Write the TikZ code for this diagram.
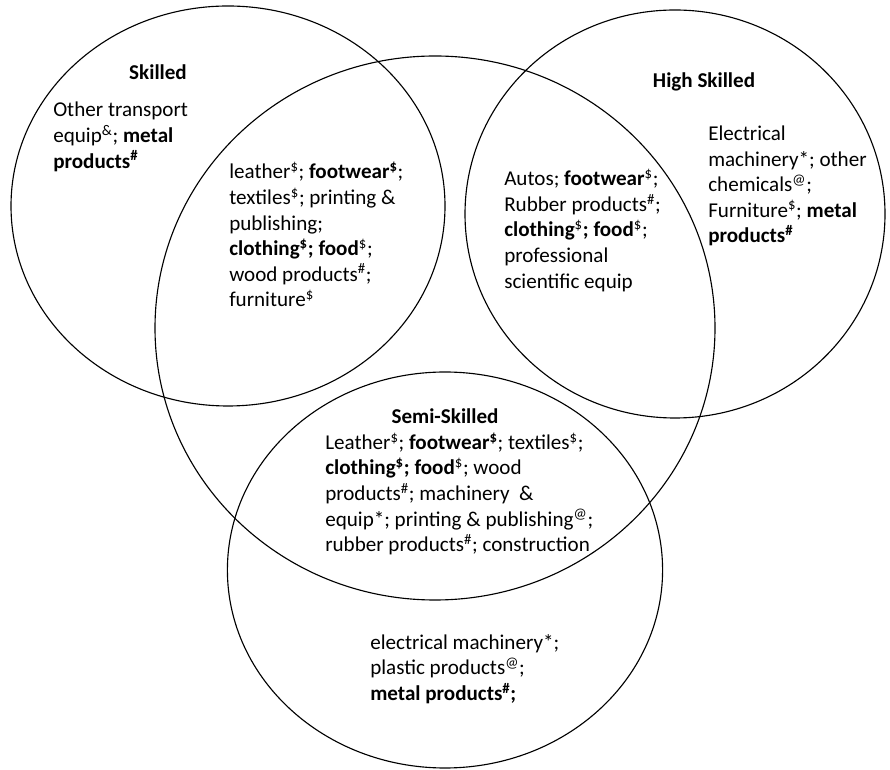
\documentclass[tikz,border=0pt]{standalone}
\usepackage{fontspec}
\setmainfont{Carlito}
\newcommand{\sx}[1]{\textsuperscript{#1}}

\begin{document}
\begin{tikzpicture}[
  set/.style={line width=0.8pt},
  ttl/.style={anchor=base, inner sep=0pt, font=\bfseries},
  txt/.style={anchor=north west, align=left, inner sep=0pt}
]
\fontsize{15}{18.2}\selectfont
\useasboundingbox (0,0) rectangle (22.25,19.25);

\draw[set] (5.70,14.10) ellipse (5.425cm and 5.0cm);
\draw[set] (10.875,11.05) ellipse (7.0cm and 6.8cm);
\draw[set] (16.875,13.9) ellipse (5.25cm and 5.1cm);
\draw[set] (11.125,5.0) ellipse (5.44cm and 4.95cm);

\node[ttl] (skilled) at (3.95,17.25) {Skilled};
\node[txt] (skilledtxt) at (1.325,16.78) {\strut Other transport\\
equip\sx{\&}; \textbf{metal}\\
\textbf{products\sx{\#}}};

\node[txt] (overlap) at (5.725,15.23) {\strut leather\sx{\$}; \textbf{footwear\sx{\$}};\\
textiles\sx{\$}; printing \&\\
publishing;\\
\textbf{clothing\sx{\$}; food}\sx{\$};\\
wood products\sx{\#};\\
furniture\sx{\$}};

\node[txt] (hioverlap) at (12.6,15.06) {\strut Autos; \textbf{footwear}\sx{\$};\\
Rubber products\sx{\#};\\
\textbf{clothing}\sx{\$}\textbf{; food}\sx{\$};\\
professional\\
scientific equip};

\node[ttl] (high) at (17.6,17.05) {High Skilled};
\node[txt] (hightxt) at (17.7,16.19) {\strut Electrical\\
machinery*; other\\
chemicals\sx{@};\\
Furniture\sx{\$}; \textbf{metal}\\
\textbf{products\sx{\#}}};

\node[ttl] (semi) at (11.125,8.67) {Semi-Skilled};
\node[txt] (semitxt) at (8.125,8.47) {\strut Leather\sx{\$}; \textbf{footwear\sx{\$}}; textiles\sx{\$};\\
\textbf{clothing\sx{\$}; food}\sx{\$}; wood\\
products\sx{\#}; machinery\ \ \&\\
equip*; printing \& publishing\sx{@};\\
rubber products\sx{\#}; construction};

\node[txt] (semionly) at (9.25,3.47) {\strut electrical machinery*;\\
plastic products\sx{@};\\
\textbf{metal products\sx{\#};}};
\end{tikzpicture}
\end{document}
